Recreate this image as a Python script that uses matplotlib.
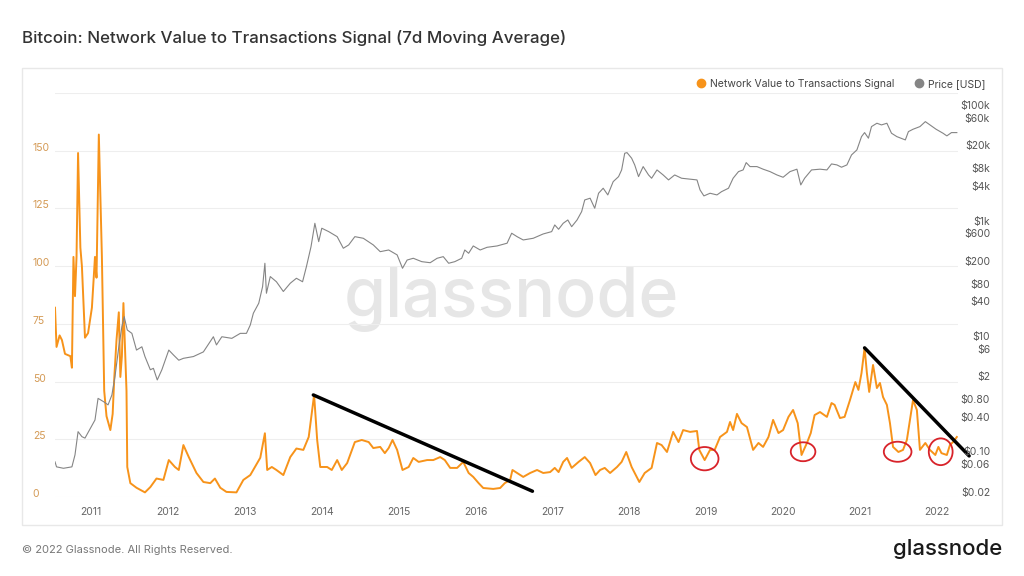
import numpy as np
import matplotlib
matplotlib.use("Agg")
import matplotlib.pyplot as plt
import matplotlib.transforms as mtransforms
from matplotlib.patches import Rectangle, Ellipse
from matplotlib.lines import Line2D

plt.rcParams['font.family'] = ['Inter', 'DejaVu Sans']

# NVT signal (7d MA), decimal year / value
nvts_t = [2010.53, 2010.55, 2010.59, 2010.62, 2010.66, 2010.73, 2010.75, 2010.77, 2010.79, 2010.81,
          2010.83, 2010.86, 2010.88, 2010.92, 2010.96, 2011.01, 2011.05, 2011.07, 2011.10, 2011.14,
          2011.17, 2011.20, 2011.25, 2011.28, 2011.30, 2011.33, 2011.36, 2011.38, 2011.40, 2011.42,
          2011.46, 2011.47, 2011.51, 2011.59, 2011.70, 2011.77, 2011.85, 2011.94, 2012.01, 2012.09,
          2012.14, 2012.20, 2012.27, 2012.37, 2012.46, 2012.55, 2012.61, 2012.68, 2012.76, 2012.89,
          2012.98, 2013.07, 2013.20, 2013.26, 2013.29, 2013.35, 2013.41, 2013.50, 2013.59, 2013.67,
          2013.76, 2013.83, 2013.90, 2013.94, 2013.98, 2014.07, 2014.13, 2014.20, 2014.26, 2014.33,
          2014.43, 2014.52, 2014.61, 2014.67, 2014.76, 2014.82, 2014.87, 2014.92, 2014.98, 2015.05,
          2015.13, 2015.19, 2015.26, 2015.37, 2015.45, 2015.54, 2015.60, 2015.67, 2015.76, 2015.84,
          2015.91, 2015.97, 2016.04, 2016.10, 2016.23, 2016.32, 2016.38, 2016.45, 2016.48, 2016.54,
          2016.62, 2016.71, 2016.80, 2016.88, 2016.97, 2017.03, 2017.08, 2017.14, 2017.19, 2017.25,
          2017.34, 2017.42, 2017.49, 2017.56, 2017.62, 2017.68, 2017.75, 2017.84, 2017.90, 2017.96,
          2018.03, 2018.07, 2018.13, 2018.20, 2018.29, 2018.36, 2018.42, 2018.49, 2018.57, 2018.64,
          2018.70, 2018.79, 2018.88, 2018.91, 2018.98, 2019.05, 2019.11, 2019.18, 2019.27, 2019.31,
          2019.35, 2019.40, 2019.46, 2019.53, 2019.61, 2019.68, 2019.74, 2019.81, 2019.87, 2019.94,
          2020.00, 2020.07, 2020.13, 2020.19, 2020.24, 2020.31, 2020.36, 2020.41, 2020.48, 2020.57,
          2020.63, 2020.67, 2020.74, 2020.80, 2020.87, 2020.94, 2020.98, 2021.02, 2021.06, 2021.09,
          2021.12, 2021.17, 2021.22, 2021.26, 2021.30, 2021.35, 2021.39, 2021.43, 2021.50, 2021.56,
          2021.61, 2021.65, 2021.69, 2021.74, 2021.78, 2021.85, 2021.91, 2021.98, 2022.02, 2022.06,
          2022.13, 2022.17, 2022.21, 2022.26]
nvts_v = [82, 65, 70, 68, 62, 61, 56, 104, 87, 104,
          149, 108, 100, 69, 71, 82, 104, 95, 157, 104,
          46, 35, 29, 36, 51, 68, 80, 52, 61, 84,
          46, 13, 6, 4, 2, 4.3, 8, 7.4, 16, 13,
          11.7, 22.5, 17.3, 10.4, 6.5, 6, 8, 4, 2.2, 2,
          7.4, 9.5, 17, 27.6, 11.7, 13, 11.7, 9.5, 17.3, 21,
          20.4, 26, 44.2, 24.7, 13, 13, 11.7, 16, 11.7, 14.7,
          23.8, 24.7, 23.8, 21.2, 21.7, 19, 21.2, 24.7, 20.4, 11.7,
          13, 16.9, 15.2, 16, 16, 17.3, 16, 12.6, 12.6, 15.2,
          10.4, 8.7, 6, 3.9, 3.5, 3.9, 6, 7.4, 11.7, 10.4,
          8.7, 10.4, 11.7, 10.4, 10.8, 12.6, 10.8, 15.2, 16.9, 12.6,
          15.2, 17.3, 14.7, 9.5, 11.7, 12.6, 10.4, 13, 15.2, 19.5,
          13, 10.4, 6.5, 10.4, 12.6, 23.4, 22.5, 19.5, 28.2, 23.8,
          29, 28.2, 28.6, 20.4, 16, 20.4, 20.4, 26, 28.2, 32.5,
          29, 36, 32, 30.3, 20.4, 23.4, 21.7, 26, 33.4, 27.7,
          29, 34.7, 37.7, 32, 18.2, 23.4, 27.7, 35.5, 36.8, 34.7,
          40.7, 39.9, 34.2, 34.7, 42, 49.8, 46.4, 53.7, 64.6, 53.7,
          45.5, 57.2, 47.2, 49.4, 43.3, 39.9, 32, 21.7, 19.5, 20.4,
          24.7, 33.4, 42, 37.7, 20.4, 23.4, 20.4, 18.2, 21.7, 19,
          18.2, 22.5, 23.8, 26]

# BTC price in USD
price_t = [2010.53, 2010.55, 2010.64, 2010.75, 2010.79, 2010.83, 2010.88, 2010.92, 2010.99, 2011.05,
           2011.09, 2011.16, 2011.22, 2011.27, 2011.31, 2011.36, 2011.40, 2011.43, 2011.47, 2011.53,
           2011.59, 2011.66, 2011.70, 2011.77, 2011.81, 2011.86, 2011.92, 2012.01, 2012.07, 2012.14,
           2012.20, 2012.33, 2012.46, 2012.59, 2012.63, 2012.70, 2012.83, 2012.94, 2013.02, 2013.07,
           2013.11, 2013.18, 2013.23, 2013.26, 2013.28, 2013.33, 2013.41, 2013.50, 2013.59, 2013.67,
           2013.75, 2013.80, 2013.86, 2013.91, 2013.96, 2014.00, 2014.09, 2014.20, 2014.28, 2014.35,
           2014.43, 2014.54, 2014.67, 2014.76, 2014.87, 2014.98, 2015.05, 2015.11, 2015.19, 2015.30,
           2015.41, 2015.50, 2015.58, 2015.65, 2015.73, 2015.82, 2015.86, 2015.91, 2015.97, 2016.06,
           2016.15, 2016.28, 2016.41, 2016.47, 2016.54, 2016.62, 2016.75, 2016.88, 2016.99, 2017.03,
           2017.08, 2017.14, 2017.20, 2017.25, 2017.32, 2017.38, 2017.42, 2017.49, 2017.55, 2017.60,
           2017.66, 2017.72, 2017.79, 2017.86, 2017.90, 2017.94, 2017.97, 2018.03, 2018.07, 2018.12,
           2018.18, 2018.25, 2018.29, 2018.36, 2018.44, 2018.51, 2018.59, 2018.68, 2018.79, 2018.88,
           2018.92, 2018.97, 2019.05, 2019.14, 2019.20, 2019.29, 2019.35, 2019.42, 2019.48, 2019.52,
           2019.57, 2019.66, 2019.74, 2019.83, 2019.92, 2020.00, 2020.09, 2020.18, 2020.23, 2020.28,
           2020.37, 2020.48, 2020.57, 2020.63, 2020.70, 2020.76, 2020.83, 2020.89, 2020.96, 2021.02,
           2021.06, 2021.11, 2021.15, 2021.22, 2021.28, 2021.35, 2021.41, 2021.48, 2021.59, 2021.63,
           2021.69, 2021.78, 2021.85, 2021.91, 2021.99, 2022.08, 2022.13, 2022.19, 2022.26]
price_v = [0.066, 0.054, 0.051, 0.054, 0.087, 0.22, 0.18, 0.17, 0.25, 0.35,
           0.83, 0.73, 0.64, 0.95, 1.97, 6.5, 14.5, 21.6, 12.7, 11.1,
           5.7, 6.5, 4.4, 2.6, 2.75, 1.73, 2.6, 5.7, 4.7, 3.8,
           4.1, 4.4, 5.3, 9.7, 7.0, 9.7, 9.1, 11.1, 11.1, 15.5,
           24.8, 36.9, 71.6, 182, 55, 107, 87, 59, 82, 100,
           87, 159, 353, 897, 431, 736, 643, 526, 331, 378,
           526, 493, 378, 289, 309, 254, 149, 207, 222, 194,
           186, 222, 237, 182, 194, 222, 309, 271, 363, 309,
           344, 363, 405, 603, 526, 461, 493, 586, 643, 839,
           706, 897, 1023, 783, 1023, 1429, 2275, 2438, 1633, 2972,
           3631, 2780, 4721, 5768, 7534, 14655, 15031, 12023, 9204, 5768,
           8610, 6166, 5408, 7534, 6166, 5058, 6166, 5408, 5200, 5058,
           3388, 2673, 2972, 2780, 3170, 3631, 5408, 7047, 7534, 10093,
           8610, 8610, 7762, 7047, 6166, 5623, 7047, 7762, 4140, 5408,
           7534, 7762, 7534, 9572, 9204, 8395, 9204, 13709, 16749, 28445,
           33420, 26730, 42462, 48529, 45394, 48529, 32584, 28445, 24946, 34754,
           38194, 42462, 51761, 45394, 38194, 32584, 29308, 33420, 33420]

left_ticks = [0, 25, 50, 75, 100, 125, 150]
price_ticks = [0.02, 0.06, 0.1, 0.4, 0.8, 2, 6, 10, 40, 80, 200, 600, 1000,
               4000, 8000, 20000, 60000, 100000]
price_labels = ['$0.02', '$0.06', '$0.10', '$0.40', '$0.80', '$2', '$6', '$10', '$40', '$80',
                '$200', '$600', '$1k', '$4k', '$8k', '$20k', '$60k', '$100k']
years = list(range(2011, 2023))

# annotations drawn on top of the chart
trend_lines = [((2013.89, 44.2), (2016.74, 2.5)), ((2021.06, 64.6), (2022.42, 17.8))]
circles = [(2018.98, 16.6, 0.36, 10.1), (2020.26, 19.6, 0.32, 8.2),
           (2021.49, 19.6, 0.36, 8.7), (2022.05, 19.6, 0.31, 11.6)]

orange = '#f7931a'
gray = '#858585'

fig = plt.figure(figsize=(10.24, 5.76), dpi=100)
fig.patches.append(Rectangle((22 / 1024, 1 - 525 / 576), 980 / 1024, 457 / 576,
                             transform=fig.transFigure, fill=False, edgecolor='#e8e8e8', lw=1))
ax = fig.add_axes([55 / 1024, 1 - 497 / 576, 903 / 1024, 404 / 576])
ax2 = ax.twinx()

ax.set_xlim(2010.53, 2022.275)
ax.set_ylim(0, 175)
ax2.set_yscale('log')
ax2.set_ylim(10 ** -1.79, 10 ** 5.21)

ax.plot(nvts_t, nvts_v, color=orange, lw=1.4, zorder=3)
ax2.plot(price_t, price_v, color=gray, lw=0.8, zorder=2)

ax.set_yticks(left_ticks + [175])
ax.set_yticklabels([str(v) for v in left_ticks] + [''])
ax.grid(axis='y', color='#eeeeee', lw=0.8)
ax.set_axisbelow(True)
ax.set_xticks(years)
ax.set_xticklabels([str(y) for y in years])
ax.tick_params(axis='x', length=0, pad=7, labelsize=7.5, labelcolor='#666666')
ax.tick_params(axis='y', length=0, pad=16, labelsize=7.5, labelcolor='#d49a55')
up = mtransforms.ScaledTranslation(0, 4 / 100, fig.dpi_scale_trans)
for lab in ax.get_yticklabels():
    lab.set_horizontalalignment('left')
    lab.set_transform(lab.get_transform() + up)

ax2.set_yticks(price_ticks)
ax2.set_yticklabels(price_labels)
ax2.minorticks_off()
ax2.tick_params(axis='y', length=0, pad=23, labelsize=7.5, labelcolor='#555555')
for lab in ax2.get_yticklabels():
    lab.set_horizontalalignment('right')

for a in (ax, ax2):
    for s in a.spines.values():
        s.set_visible(False)

ax.text(0.505, 0.49, 'glassnode', transform=ax.transAxes, ha='center', va='center',
        fontsize=49, color='#e6e6e6', fontweight='medium', zorder=0)

for (x0, y0), (x1, y1) in trend_lines:
    ax.plot([x0, x1], [y0, y1], color='black', lw=2.5, solid_capstyle='round',
            clip_on=False, zorder=5)
for cx, cy, w, h in circles:
    ax.add_patch(Ellipse((cx, cy), w, h, fill=False, edgecolor='#d8232a', lw=1.3,
                         zorder=5, clip_on=False))

handles = [Line2D([], [], ls='', marker='o', ms=6, color=orange),
           Line2D([], [], ls='', marker='o', ms=6, color=gray)]
fig.legend(handles, ['Network Value to Transactions Signal', 'Price [USD]'],
           loc='center right', bbox_to_anchor=(995 / 1024, 1 - 84 / 576), ncol=2,
           frameon=False, fontsize=7.5, handletextpad=0.4, columnspacing=1.8,
           handlelength=1.0, labelcolor='#444444')

fig.text(22 / 1024, 1 - 38 / 576, 'Bitcoin: Network Value to Transactions Signal (7d Moving Average)',
         fontsize=12.2, color='#333333', fontweight='medium', va='center')
fig.text(22 / 1024, 1 - 550 / 576, '\u00a9 2022 Glassnode. All Rights Reserved.',
         fontsize=8, color='#777777', va='center')
fig.text(1002 / 1024, 1 - 549 / 576, 'glassnode', fontsize=16, color='#1a1a1a',
         fontweight='medium', va='center', ha='right')

fig.savefig('out.png', dpi=100)
